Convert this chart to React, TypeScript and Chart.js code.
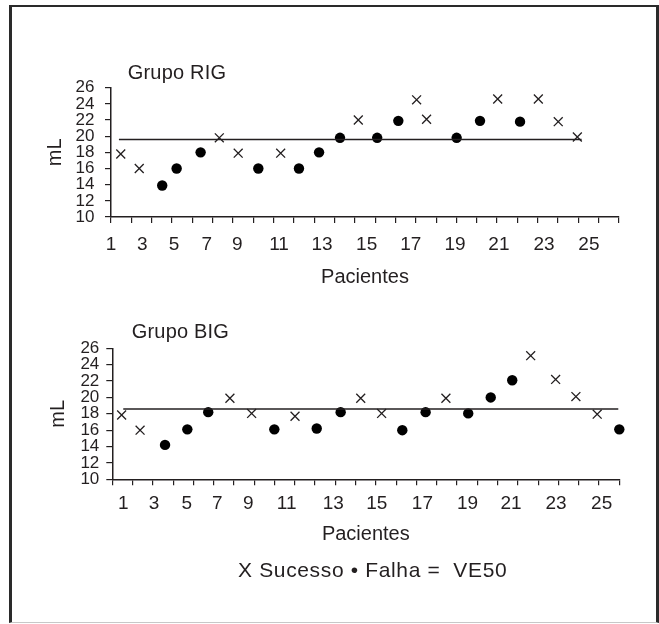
import React, { useEffect, useRef } from 'react';
import { Chart, registerables } from 'chart.js';

Chart.register(...registerables);

const FONT = "'Liberation Sans', Arial, Helvetica, sans-serif";
const INK = '#231f20';

// ---- data ----
const xTickLabels = ['1', '3', '5', '7', '9', '11', '13', '15', '17', '19', '21', '23', '25'];

// Grupo RIG
const rigX = [0.48, 1.39, 2.52, 3.23, 4.41, 5.33, 6.26, 7.25, 8.35, 9.25, 10.24, 11.27, 12.17, 13.1, 14.14, 15.04, 15.53, 17.01, 18.16, 19.03, 20.13, 21.03, 22.01, 22.95];
const rigY = [17.8, 16, 13.9, 16, 18, 19.8, 17.9, 16, 17.9, 16, 18, 19.8, 22, 19.8, 21.9, 24.5, 22.1, 19.8, 21.9, 24.6, 21.8, 24.6, 21.8, 19.9];
const rigOutcome = ['S', 'S', 'F', 'F', 'F', 'S', 'S', 'F', 'S', 'F', 'F', 'F', 'S', 'F', 'F', 'S', 'S', 'F', 'F', 'S', 'F', 'S', 'S', 'S'];
const rigVE50 = 19.6;
const rigVE50Span = [0.39, 23.16];
const rigLabelPos = [0, 1.54, 3.1, 4.71, 6.22, 8.27, 10.39, 12.58, 14.75, 16.93, 19.09, 21.31, 23.52];

// Grupo BIG
const bigX = [0.46, 1.37, 2.6, 3.7, 4.73, 5.8, 6.87, 7.99, 9.01, 10.08, 11.26, 12.25, 13.28, 14.3, 15.45, 16.45, 17.55, 18.66, 19.72, 20.63, 21.86, 22.86, 23.91, 25.0];
const bigY = [17.85, 16, 14.2, 16.1, 18.2, 19.9, 18.05, 16.1, 17.7, 16.2, 18.2, 19.9, 18.05, 16, 18.2, 19.9, 18.05, 20, 22.1, 25.1, 22.2, 20.1, 17.95, 16.1];
const bigOutcome = ['S', 'S', 'F', 'F', 'F', 'S', 'S', 'F', 'S', 'F', 'F', 'S', 'S', 'F', 'F', 'S', 'F', 'F', 'F', 'S', 'S', 'S', 'S', 'F'];
const bigVE50 = 18.6;
const bigVE50Span = [0.54, 24.95];
const bigLabelPos = [0.54, 2.06, 3.67, 5.18, 6.71, 8.6, 10.9, 13.04, 15.29, 17.52, 19.66, 21.88, 24.13];

type Geom = {
  width: number;
  height: number;
  padTop: number;
  padRight: number;
  padBottom: number;
  yWidth: number;
  yLabelPad: number;
  yTitlePad: number;
  xlHeight: number;
  xlLabelPad: number;
  xlTitlePad: number;
};

function buildConfig(xs: number[], ys: number[], outcome: string[], ve: number, span: number[], labelPos: number[], g: Geom): any {
  const succ = xs.map((x, i) => ({ x, y: ys[i], o: outcome[i] })).filter(p => p.o === 'S').map(p => ({ x: p.x, y: p.y }));
  const fail = xs.map((x, i) => ({ x, y: ys[i], o: outcome[i] })).filter(p => p.o === 'F').map(p => ({ x: p.x, y: p.y }));
  return {
    type: 'scatter',
    data: {
      datasets: [
        {
          label: 'VE50',
          data: span.map(x => ({ x, y: ve })),
          showLine: true,
          borderColor: INK,
          borderWidth: 1.5,
          pointRadius: 0,
          clip: false,
          xAxisID: 'x',
          yAxisID: 'y',
        },
        {
          label: 'Sucesso',
          data: succ,
          pointStyle: 'crossRot',
          pointRadius: 6.3,
          borderColor: INK,
          borderWidth: 1.3,
          backgroundColor: INK,
          clip: false,
          xAxisID: 'x',
          yAxisID: 'y',
        },
        {
          label: 'Falha',
          data: fail,
          pointStyle: 'circle',
          pointRadius: 5.2,
          borderWidth: 0,
          backgroundColor: '#000',
          clip: false,
          xAxisID: 'x',
          yAxisID: 'y',
        },
      ],
    },
    options: {
      responsive: false,
      maintainAspectRatio: false,
      animation: false,
      events: [],
      layout: { padding: { top: g.padTop, right: g.padRight, bottom: g.padBottom, left: 0 } },
      plugins: { legend: { display: false }, tooltip: { enabled: false }, title: { display: false } },
      scales: {
        x: {
          type: 'linear',
          position: 'bottom',
          weight: 1,
          min: 0,
          max: 25,
          ticks: { display: false, stepSize: 1 },
          grid: { drawOnChartArea: false, drawTicks: true, tickLength: 6, color: INK, lineWidth: 1.2 },
          border: { display: true, color: INK, width: 1.5 },
          afterFit: (s: any) => { s.height = 6; },
        },
        xl: {
          type: 'linear',
          position: 'bottom',
          weight: 2,
          min: 0,
          max: 25,
          afterBuildTicks: (s: any) => { s.ticks = labelPos.map(v => ({ value: v })); },
          ticks: {
            autoSkip: false,
            maxRotation: 0,
            minRotation: 0,
            padding: g.xlLabelPad,
            color: INK,
            font: { family: FONT, size: 19 },
            callback: (_v: any, i: number) => xTickLabels[i],
          },
          grid: { display: false, drawTicks: false },
          border: { display: false },
          title: { display: true, text: 'Pacientes', color: INK, font: { family: FONT, size: 20 }, padding: { top: 0, bottom: g.xlTitlePad } },
          afterFit: (s: any) => { s.height = g.xlHeight; },
        },
        y: {
          type: 'linear',
          position: 'left',
          min: 10,
          max: 26,
          ticks: { stepSize: 2, autoSkip: false, padding: g.yLabelPad, color: INK, font: { family: FONT, size: 17 } },
          grid: { drawOnChartArea: false, drawTicks: true, tickLength: 6, color: INK, lineWidth: 1.2 },
          border: { display: true, color: INK, width: 1.5 },
          title: { display: true, text: 'mL', color: INK, font: { family: FONT, size: 20 }, padding: { top: g.yTitlePad, bottom: 0 } },
          afterFit: (s: any) => { s.width = g.yWidth; },
        },
      },
    },
  };
}

function Plot(props: { top: number; cfg: any; g: Geom }) {
  const ref = useRef<HTMLCanvasElement | null>(null);
  useEffect(() => {
    if (!ref.current) return;
    const chart = new Chart(ref.current, props.cfg);
    return () => chart.destroy();
  }, []);
  return (
    <canvas
      ref={ref}
      width={props.g.width}
      height={props.g.height}
      style={{ position: 'absolute', left: 0, top: props.top, width: props.g.width, height: props.g.height, display: 'block' }}
    />
  );
}

const g1: Geom = { width: 659, height: 300, padTop: 87.7, padRight: 40, padBottom: 0, yWidth: 111, yLabelPad: 10.5, yTitlePad: 43.8, xlHeight: 77, xlLabelPad: 10.5, xlTitlePad: 10.3 };
const g2: Geom = { width: 659, height: 324, padTop: 48.3, padRight: 39.7, padBottom: 66.7, yWidth: 112.3, yLabelPad: 7, yTitlePad: 46.3, xlHeight: 72, xlLabelPad: 7.2, xlTitlePad: 11.3 };

export default function App() {
  const cfg1 = buildConfig(rigX, rigY, rigOutcome, rigVE50, rigVE50Span, rigLabelPos, g1);
  const cfg2 = buildConfig(bigX, bigY, bigOutcome, bigVE50, bigVE50Span, bigLabelPos, g2);
  const textStyle: React.CSSProperties = { position: 'absolute', fontFamily: FONT, color: INK, whiteSpace: 'pre', margin: 0 };
  return (
    <div style={{ position: 'absolute', left: 0, top: 0, width: 659, height: 624, background: '#fff', overflow: 'hidden' }}>
      <div
        style={{
          position: 'absolute', left: 9, top: 5, width: 650, height: 618, boxSizing: 'border-box',
          borderLeft: '3px solid #2a2a2a', borderTop: '2px solid #2a2a2a', borderRight: '3px solid #2a2a2a', borderBottom: '1px solid #c8c8c8',
        }}
      />
      <Plot top={0} cfg={cfg1} g={g1} />
      <Plot top={300} cfg={cfg2} g={g2} />
      <div style={{ ...textStyle, left: 127.7, top: 62.4, fontSize: 20, lineHeight: '20px', letterSpacing: '0.2px' }}>Grupo RIG</div>
      <div style={{ ...textStyle, left: 131.7, top: 320.9, fontSize: 20, lineHeight: '20px', letterSpacing: '0.2px' }}>Grupo BIG</div>
      <div style={{ ...textStyle, left: 238, top: 559.3, fontSize: 21, lineHeight: '21px', letterSpacing: '0.65px' }}>{'X Sucesso • Falha =  VE50'}</div>
    </div>
  );
}
